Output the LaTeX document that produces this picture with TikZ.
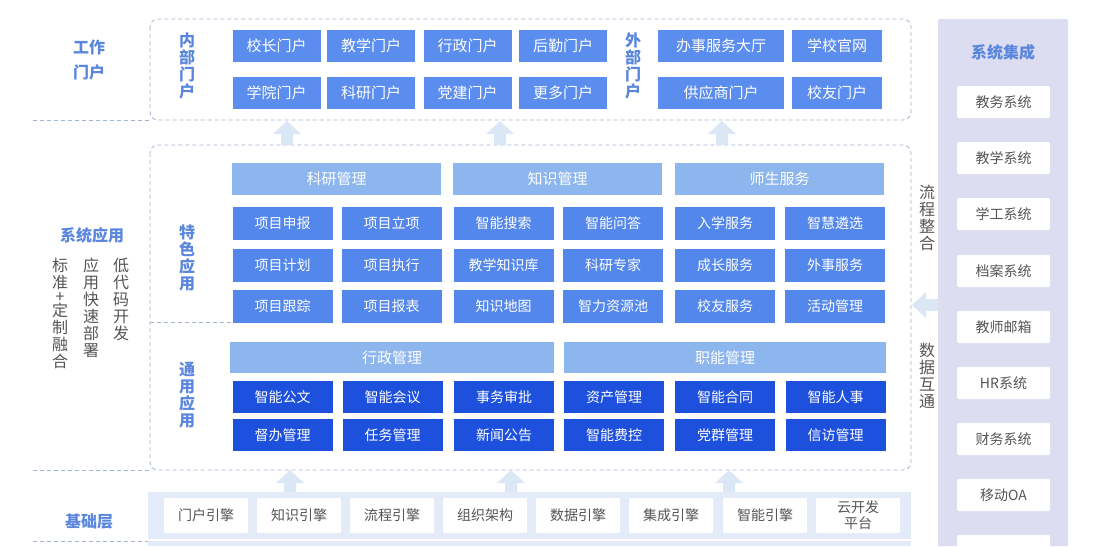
\documentclass[tikz,border=0pt]{standalone}
\usepackage{fontspec}
\setmainfont{Noto Sans CJK SC}
\definecolor{portalc}{HTML}{5B8DEF}
\definecolor{featc}{HTML}{5387EC}
\definecolor{headc}{HTML}{8DB5EE}
\definecolor{genc}{HTML}{1E50DE}
\definecolor{labc}{HTML}{5A86DE}
\definecolor{dashc}{HTML}{A3B3D2}
\definecolor{arrc}{HTML}{DCE7F6}
\definecolor{bandc}{HTML}{E3EBF8}
\definecolor{colc}{HTML}{DCDDF0}
\definecolor{graytext}{HTML}{555555}
\tikzset{
  cell/.style={inner sep=0pt, text=white, font=\fontsize{14}{16}\selectfont},
  pbox/.style={cell, fill=portalc, minimum width=88pt, minimum height=32pt, font=\fontsize{15}{17}\selectfont},
  hbar/.style={cell, fill=headc, minimum width=209pt, minimum height=32pt, font=\fontsize{15}{17}\selectfont},
  fbox/.style={cell, fill=featc, minimum width=100pt, minimum height=33pt},
  gbox/.style={cell, fill=genc, minimum width=100pt, minimum height=32pt},
  wbox/.style={inner sep=0pt, fill=white, rounded corners=2pt, text=graytext, font=\fontsize{14}{15}\selectfont},
  lbl/.style={text=labc, font=\fontsize{16}{25}\selectfont\bfseries, align=center},
  vlbl/.style={text=labc, font=\fontsize{16}{16.8}\selectfont\bfseries, align=center, inner sep=0pt},
  vgray/.style={text=graytext, font=\fontsize{16}{17}\selectfont, align=center, inner sep=0pt},
  dashline/.style={draw=dashc, line width=0.8pt, dash pattern=on 4pt off 3pt},
}
\begin{document}
\begin{tikzpicture}[x=1pt,y=-1pt]
\useasboundingbox (0,0) rectangle (1099,546);
% ---- background bands
\fill[colc] (938,19) [rounded corners=2pt] -- (1068,19) [sharp corners] -- (1068,546) -- (938,546) [rounded corners=2pt] -- cycle;
\fill[bandc] (148,492) rectangle (911,546);
\draw[white, line width=1.5pt] (148,540) -- (911,540);
% ---- dashed frames and separators
\draw[dashline, rounded corners=8pt] (150,19) rectangle (911,120);
\draw[dashline, rounded corners=8pt] (150,145) rectangle (911,470);
\draw[dashline] (33,120) -- (150,120);
\draw[dashline] (33,470) -- (150,470);
\draw[dashline] (33,541) -- (148,541);
\draw[dashline] (150,322) -- (232,322);
% ---- block arrows
\foreach \x in {287,500,722}{
  \fill[arrc] (\x-6,145) -- (\x-6,134) -- (\x-14,134) -- (\x,121) -- (\x+14,134) -- (\x+6,134) -- (\x+6,145) -- cycle;}
\foreach \x in {290,511,729}{
  \fill[arrc] (\x-6,492) -- (\x-6,483) -- (\x-14,483) -- (\x,470) -- (\x+14,483) -- (\x+6,483) -- (\x+6,492) -- cycle;}
\fill[arrc] (938,299) -- (926,299) -- (926,292) -- (912,305) -- (926,318) -- (926,311) -- (938,311) -- cycle;
% ---- left labels
\node[lbl] (lwork) at (89,60) {工作\\门户};
\node[lbl] (lapp) at (92,235) {系统应用};
\node[lbl] (lbase) at (89,522) {基础层};
\node[vgray, anchor=north] (c1) at (60,258) {标\\准\\[-3pt]+\\[-3pt]定\\制\\融\\合};
\node[vgray, anchor=north] (c2) at (91,258) {应\\用\\快\\速\\部\\署};
\node[vgray, anchor=north] (c3) at (121,258) {低\\代\\码\\开\\发};
% ---- portal section
\node[vlbl] (inner) at (187,66) {内\\部\\门\\户};
\node[vlbl] (outer) at (633,66) {外\\部\\门\\户};
\node[pbox] (p1) at (276.5,46) {校长门户};
\node[pbox] (p2) at (371,46) {教学门户};
\node[pbox] (p3) at (467.5,46) {行政门户};
\node[pbox] (p4) at (563,46) {后勤门户};
\node[pbox] (p5) at (276.5,92.5) {学院门户};
\node[pbox] (p6) at (371,92.5) {科研门户};
\node[pbox] (p7) at (467.5,92.5) {党建门户};
\node[pbox] (p8) at (563,92.5) {更多门户};
\node[pbox, minimum width=126pt] (o1) at (721,46) {办事服务大厅};
\node[pbox, minimum width=90pt] (o2) at (837,46) {学校官网};
\node[pbox, minimum width=126pt] (o3) at (721,92.5) {供应商门户};
\node[pbox, minimum width=90pt] (o4) at (837,92.5) {校友门户};
% ---- feature apps
\node[vlbl] (feat) at (187,258) {特\\色\\应\\用};
\node[hbar] (h1) at (336.5,179) {科研管理};
\node[hbar] (h2) at (557.5,179) {知识管理};
\node[hbar] (h3) at (779.5,179) {师生服务};
\node[fbox] (f11) at (282.5,223) {项目申报};
\node[fbox] (f12) at (391.5,223) {项目立项};
\node[fbox] (f13) at (503.5,223) {智能搜索};
\node[fbox] (f14) at (613,223) {智能问答};
\node[fbox] (f15) at (725,223) {入学服务};
\node[fbox] (f16) at (835,223) {智慧遴选};
\node[fbox] (f21) at (282.5,265) {项目计划};
\node[fbox] (f22) at (391.5,265) {项目执行};
\node[fbox] (f23) at (503.5,265) {教学知识库};
\node[fbox] (f24) at (613,265) {科研专家};
\node[fbox] (f25) at (725,265) {成长服务};
\node[fbox] (f26) at (835,265) {外事服务};
\node[fbox] (f31) at (282.5,306) {项目跟踪};
\node[fbox] (f32) at (391.5,306) {项目报表};
\node[fbox] (f33) at (503.5,306) {知识地图};
\node[fbox] (f34) at (613,306) {智力资源池};
\node[fbox] (f35) at (725,306) {校友服务};
\node[fbox] (f36) at (835,306) {活动管理};
% ---- general apps
\node[vlbl] (gen) at (187,395) {通\\用\\应\\用};
\node[hbar, minimum width=324pt, minimum height=31pt] (g1) at (392,357.5) {行政管理};
\node[hbar, minimum width=322pt, minimum height=31pt] (g2) at (725,357.5) {职能管理};
\node[gbox] (a11) at (282.5,397) {智能公文};
\node[gbox] (a12) at (392.5,397) {智能会议};
\node[gbox] (a13) at (504,397) {事务审批};
\node[gbox] (a14) at (614,397) {资产管理};
\node[gbox] (a15) at (725,397) {智能合同};
\node[gbox] (a16) at (835.5,397) {智能人事};
\node[gbox] (a21) at (282.5,435) {督办管理};
\node[gbox] (a22) at (392.5,435) {任务管理};
\node[gbox] (a23) at (504,435) {新闻公告};
\node[gbox] (a24) at (614,435) {智能费控};
\node[gbox] (a25) at (725,435) {党群管理};
\node[gbox] (a26) at (835.5,435) {信访管理};
% ---- side labels
\node[vgray] (flow) at (927,218) {流\\程\\整\\合};
\node[vgray] (data) at (927,376) {数\\据\\互\\通};
% ---- base layer
\foreach \n/\x/\t in {b1/206/门户引擎, b2/299/知识引擎, b3/392/流程引擎, b4/485/组织架构, b5/578/数据引擎, b6/671/集成引擎, b7/765/智能引擎}{
  \node[wbox, rounded corners=1pt, minimum width=84pt, minimum height=35pt] (\n) at (\x,515.5) {\t};}
\node[wbox, rounded corners=1pt, minimum width=84pt, minimum height=35pt, align=center, font=\fontsize{14}{16}\selectfont] (b8) at (858,515.5) {云开发\\平台};
% ---- system integration column
\node[text=labc, font=\fontsize{16}{18}\selectfont\bfseries] (sys) at (1003,52) {系统集成};
\foreach \n/\y/\t in {s1/102/教务系统, s2/158/教学系统, s3/214/学工系统, s4/271/档案系统, s5/327/教师邮箱, s6/383/HR系统, s7/439/财务系统, s8/495/移动OA, s9/551/{}}{
  \node[wbox, minimum width=93pt, minimum height=32pt] (\n) at (1003.5,\y) {\t};}
\end{tikzpicture}
\end{document}
